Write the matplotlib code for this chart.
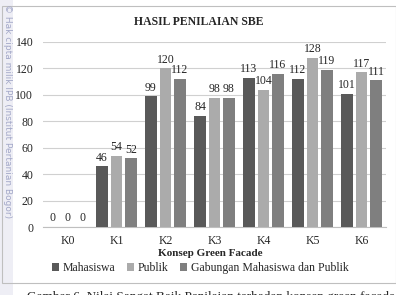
import matplotlib
matplotlib.use("Agg")
import matplotlib.pyplot as plt
import numpy as np
from matplotlib.patches import Rectangle

categories = ["K0", "K1", "K2", "K3", "K4", "K5", "K6"]
mahasiswa = [0, 46, 99, 84, 113, 112, 101]
publik = [0, 54, 120, 98, 104, 128, 117]
gabungan = [0, 52, 112, 98, 116, 119, 111]
series_names = ["Mahasiswa", "Publik", "Gabungan Mahasiswa dan Publik"]
colors = ["#595959", "#ababab", "#7f7f7f"]
yticks = [0, 20, 40, 60, 80, 100, 120, 140]

plt.rcParams['font.family'] = ['Liberation Serif', 'DejaVu Serif']

W, H = 396, 295
fig = plt.figure(figsize=(W / 100, H / 100), dpi=100)
fig.patch.set_facecolor("white")

def fx(px):
    return px / W

def fy(py):
    return 1 - py / H

# outer chart border
fig.patches.append(Rectangle((fx(2), fy(283)), fx(396) - fx(2), fy(6) - fy(283),
                             transform=fig.transFigure, fill=False,
                             edgecolor="#bfbfbf", linewidth=0.8))
# watermark strip
fig.patches.append(Rectangle((0, 0), fx(13), 1, transform=fig.transFigure,
                             facecolor="#eeeef5", edgecolor="none", zorder=0))

ax = fig.add_axes([fx(43), fy(227), fx(386) - fx(43), fy(42) - fy(227)])
x = np.arange(len(categories))
bw = 0.235
step = 0.296
for i, (vals, c, name) in enumerate(zip([mahasiswa, publik, gabungan], colors, series_names)):
    pos = x + (i - 1) * step
    bars = ax.bar(pos, vals, width=bw, color=c, label=name, zorder=3)
    for p, v in zip(pos, vals):
        ax.text(p, v + 2, str(v), ha="center", va="bottom", fontsize=8.5, color="#262626")

ax.set_xlim(-0.5, len(categories) - 0.5)
ax.set_ylim(0, 140)
ax.set_yticks(yticks)
ax.set_xticks(x)
ax.set_xticklabels(categories)
ax.tick_params(axis="both", length=0, labelsize=8.5, colors="#262626")
ax.tick_params(axis="x", pad=6)
ax.tick_params(axis="y", pad=7)
ax.grid(axis="y", color="#d0d0d0", linewidth=0.8, zorder=0)
for s in ["top", "right", "left"]:
    ax.spines[s].set_visible(False)
ax.spines["bottom"].set_color("#bfbfbf")
ax.set_facecolor("white")

fig.text(fx(199), fy(22), "HASIL PENILAIAN SBE", ha="center", va="center",
         fontsize=8.5, fontweight="bold", color="#262626")
fig.text(fx(210), fy(254), "Konsep Green Facade", ha="center", va="center",
         fontsize=8, fontweight="bold", color="#262626")

handles, labels = ax.get_legend_handles_labels()
fig.legend(handles, labels, loc="center", bbox_to_anchor=(fx(200), fy(268)),
           ncol=3, frameon=False, fontsize=8.5, handlelength=0.6, handleheight=0.6,
           handletextpad=0.3, columnspacing=1.0, labelcolor="#262626")

fig.text(fx(7), fy(4), "\u00a9 Hak cipta milik IPB (Institut Pertanian Bogor)",
         rotation=270, ha="center", va="top", fontsize=6.5, color="#a3a8c8",
         family=["DejaVu Sans"])

fig.text(fx(27), fy(303), "Gambar 6  Nilai Sangat Baik Penilaian terhadap konsep green facade",
         ha="left", va="bottom", fontsize=9.5, color="#262626")

fig.savefig("out.png", dpi=100)
